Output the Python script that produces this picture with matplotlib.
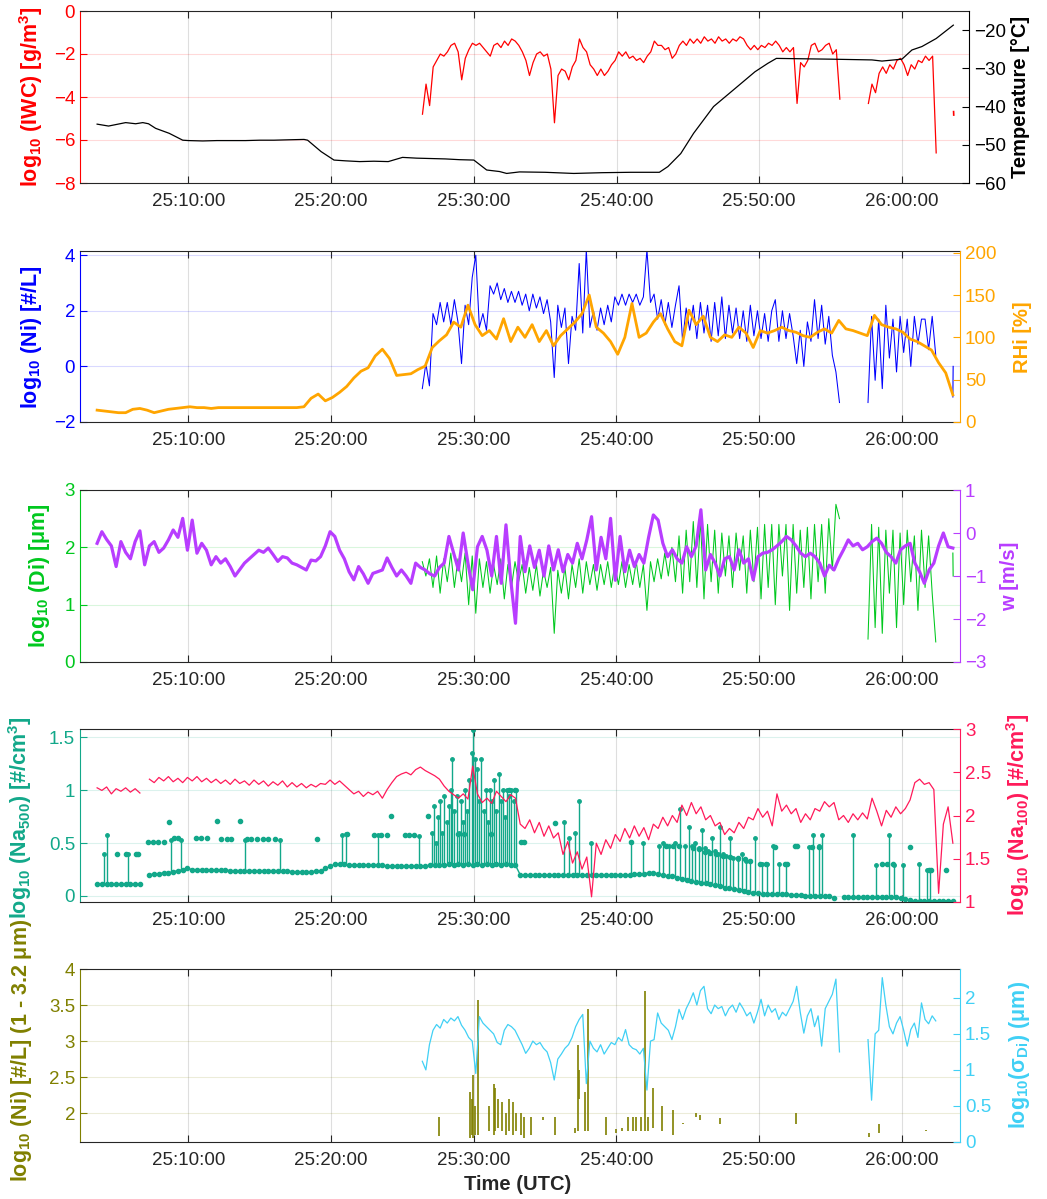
import numpy as np
import matplotlib
matplotlib.use("Agg")
import matplotlib.pyplot as plt

nan = np.nan

# ---------------- data (time in minutes after 25:00 UTC) ----------------
xtick_min = [10, 20, 30, 40, 50, 60]
xtick_labels = ['25:10:00', '25:20:00', '25:30:00', '25:40:00', '25:50:00', '26:00:00']

temp_t = [3.6, 4.4, 5.6, 6.3, 6.8, 7.2, 7.7, 8.65, 9.6, 10.0, 11.0, 12.0, 13.0, 14.0, 15.0,
          16.0, 17.0, 18.1, 18.35, 19.3, 20.2, 21.0, 22.0, 23.0, 24.0, 25.0, 26.0, 27.0, 28.0,
          29.0, 30.0, 30.9, 31.8, 32.3, 33.2, 35.0, 37.0, 39.0, 41.0, 43.0, 43.6, 44.5, 45.4,
          46.8, 48.3, 49.7, 50.6, 51.2, 53.0, 55.0, 57.9, 58.6, 60.0, 60.7, 61.4, 62.4, 63.6]
temp = [-44.6, -45.1, -44.2, -44.5, -44.2, -44.5, -45.7, -47.0, -48.8, -48.9, -49.0, -48.9,
        -48.9, -48.9, -48.8, -48.8, -48.7, -48.6, -48.8, -51.8, -54.0, -54.2, -54.4, -54.3,
        -54.4, -53.3, -53.5, -53.6, -53.7, -53.9, -54.0, -56.6, -57.0, -57.5, -57.1, -57.2,
        -57.5, -57.3, -57.2, -57.2, -55.7, -52.3, -47.0, -40.0, -35.3, -30.9, -28.7, -27.4,
        -27.5, -27.6, -27.8, -28.1, -27.6, -25.2, -24.3, -22.2, -18.7]

# in-cloud series, sampled every 0.25 min from 26.4
cloud_start, cloud_step = 26.4, 0.25
iwc = [-4.8, -3.4, -4.4, -2.6, -2.3, -2.0, -2.1, -1.9, -1.6, -1.5,
       -1.9, -3.2, -2.2, -1.8, -1.5, -1.6, -1.5, -1.7, -1.9, -2.1,
       -1.6, -1.5, -1.7, -1.4, -1.6, -1.3, -1.4, -1.6, -1.9, -2.3,
       -3.0, -2.4, -2.0, -1.9, -2.1, -2.0, -2.7, -5.2, -3.0, -2.7,
       -2.8, -3.2, -2.6, -2.3, -1.3, -1.7, -1.9, -2.5, -2.7, -3.0,
       -2.7, -3.0, -2.8, -2.5, -2.3, -1.9, -2.1, -1.9, -2.2, -2.1,
       -2.3, -2.2, -2.4, -2.1, -1.9, -1.4, -1.6, -1.6, -1.8, -1.7,
       -2.2, -2.0, -1.6, -1.4, -1.6, -1.3, -1.5, -1.3, -1.5, -1.2,
       -1.4, -1.3, -1.5, -1.2, -1.4, -1.3, -1.5, -1.3, -1.4, -1.2,
       -1.3, -1.6, -1.8, -1.6, -1.8, -1.6, -1.7, -1.5, -1.6, -1.4,
       -1.6, -1.9, -1.7, -1.9, -1.7, -4.3, -2.4, -2.6, -2.3, -1.6,
       -1.5, -1.9, -1.8, -1.6, -1.5, -2.0, -1.8, -4.1, nan, nan,
       nan, nan, nan, nan, nan, -4.3, -3.4, -3.8, -2.9, -2.6,
       -2.9, -2.5, -2.7, -2.3, -2.2, -2.5, -3.0, -2.5, -2.7, -2.3,
       -2.4, -2.1, -2.3, -2.1, -6.6, nan, nan, nan, nan, nan, nan]
iwc_tail_t = [63.62, 63.63]
iwc_tail = [-4.68, -4.84]

ni = [-0.8, 0.1, -0.7, 1.9, 1.5, 2.3, 1.6, 2.3, 1.5, 2.4,
      1.6, 0.1, 2.2, 1.5, 3.2, 4.0, 1.4, 1.9, 1.3, 2.9,
      2.6, 3.0, 2.4, 2.8, 2.3, 2.7, 2.3, 2.7, 2.2, 2.6,
      2.0, 2.6, 2.1, 2.5, 1.9, 2.4, 1.6, -0.4, 2.2, 1.4,
      2.1, 0.1, 1.8, 1.3, 3.7, 1.2, 4.2, 1.4, 2.0, 1.3,
      2.1, 1.5, 2.2, 1.6, 2.5, 2.2, 2.6, 2.2, 2.6, 2.3,
      2.6, 2.2, 2.5, 4.2, 2.3, 2.6, 1.7, 2.4, 1.5, 2.3,
      1.4, 2.2, 2.9, 0.9, 2.1, 1.3, 2.2, 1.0, 2.3, 1.2,
      2.2, 0.9, 2.3, 1.1, 2.5, 1.0, 2.2, 1.2, 2.1, 1.0,
      2.0, 0.9, 2.2, 1.1, 2.0, 1.0, 1.9, 0.9, 2.0, 2.4,
      0.9, 2.0, 1.0, 1.9, 1.1, 0.1, 1.3, 0.0, 1.6, 0.9,
      2.4, 1.0, 2.2, 0.8, 1.8, 0.4, -0.2, -1.3, nan, nan,
      nan, nan, nan, nan, nan, -1.3, 1.8, -0.5, 1.7, -0.8,
      2.2, 0.3, 1.7, -0.2, 1.8, 0.5, 1.7, 0.0, 1.8, 0.8,
      1.7, 1.7, 0.6, 1.8, 0.4, nan, nan, nan, nan, nan, nan]
ni_tail_t = [63.6, 63.62]
ni_tail = [-1.1, 0.0]

di = [1.75, 1.5, 1.8, 1.3, 1.85, 1.2, 1.8, 1.4, 1.9, 1.3,
      1.8, 1.4, 1.9, 1.0, 1.85, 0.85, 1.8, 1.3, 1.75, 1.2,
      1.7, 1.35, 1.8, 1.1, 1.7, 1.3, 1.75, 1.4, 1.7, 1.2,
      1.65, 1.25, 1.7, 1.15, 1.6, 1.3, 1.65, 0.5, 1.6, 1.2,
      1.65, 1.1, 1.7, 1.3, 1.8, 1.2, 1.75, 1.35, 1.7, 1.25,
      1.7, 1.35, 1.75, 1.3, 1.7, 1.35, 1.75, 1.3, 1.7, 1.35,
      1.75, 1.3, 1.7, 0.9, 1.75, 1.4, 1.8, 1.45, 1.9, 1.5,
      2.0, 1.4, 2.2, 1.2, 2.3, 1.4, 2.45, 1.3, 2.5, 1.1,
      2.4, 1.4, 2.3, 1.2, 2.25, 1.5, 2.2, 1.3, 2.25, 1.6,
      2.2, 1.2, 2.3, 1.4, 2.35, 1.1, 2.4, 1.3, 2.4, 1.0,
      2.4, 1.5, 2.4, 0.9, 2.4, 1.2, 2.3, 1.3, 2.35, 1.1,
      2.4, 1.4, 2.4, 1.2, 2.5, 1.6, 2.75, 2.5, nan, nan,
      nan, nan, nan, nan, nan, 0.4, 2.4, 0.6, 2.35, 0.5,
      2.3, 1.2, 2.3, 0.6, 2.25, 1.0, 2.3, 1.4, 2.2, 0.9,
      2.3, 1.3, 2.2, 1.2, 0.35, nan, nan, nan, nan, nan, nan]
di_tail_t = [63.6, 63.62]
di_tail = [1.9, 1.5]

sigma_di = [1.12, 1.0, 1.35, 1.55, 1.63, 1.58, 1.70, 1.65, 1.72, 1.68,
            1.74, 1.62, 1.55, 1.45, 1.40, 0.95, 1.74, 1.65, 1.60, 1.55,
            1.50, 1.38, 1.35, 1.55, 1.63, 1.60, 1.55, 1.45, 1.35, 1.23,
            1.30, 1.40, 1.35, 1.38, 1.30, 1.25, 1.10, 0.86, 1.15, 1.22,
            1.30, 1.35, 1.45, 1.60, 1.70, 1.77, 0.81, 1.40, 1.30, 1.25,
            1.35, 1.22, 1.30, 1.38, 1.35, 1.45, 1.40, 1.56, 1.35, 1.30,
            1.28, 1.22, 1.30, 0.72, 1.40, 1.42, 1.79, 1.65, 1.60, 1.55,
            1.42, 1.60, 1.84, 1.70, 1.85, 1.95, 2.07, 1.90, 2.10, 2.16,
            1.85, 1.78, 1.90, 1.85, 1.88, 1.75, 1.85, 1.90, 1.80, 1.93,
            1.85, 1.75, 1.80, 1.65, 1.80, 1.98, 1.75, 1.90, 1.80, 1.85,
            1.70, 1.80, 1.75, 1.85, 1.95, 2.16, 1.80, 1.51, 1.75, 1.85,
            1.60, 1.75, 1.33, 1.85, 1.95, 2.05, 2.26, 1.25, nan, nan,
            nan, nan, nan, nan, nan, 1.42, 0.58, 1.50, 1.55, 2.28,
            1.90, 1.60, 1.50, 1.65, 1.74, 1.55, 1.33, 1.56, 1.65, 1.45,
            1.93, 1.70, 1.64, 1.75, 1.68, nan, nan, nan, nan, nan, nan]

# small ice (1 - 3.2 um): short bursts (time, low, high)
nis_t = [27.56, 29.76, 29.88, 29.98, 30.1, 30.28, 31.1, 31.4, 31.5, 31.7, 32.0, 32.25, 32.5,
         32.75, 33.0, 33.3, 33.55, 34.0, 34.85, 35.7, 37.1, 37.3, 37.4, 37.8, 38.0, 39.3, 40.0,
         40.4, 40.85, 41.2, 41.4, 41.7, 42.0, 42.25, 42.55, 43.2, 44.0, 44.7, 45.6, 45.9, 47.3,
         52.6, 57.7, 58.4, 61.75]
nis_lo = [1.68, 1.65, 1.7, 1.65, 1.7, 1.7, 1.75, 1.7, 1.75, 1.8, 1.75, 1.7, 1.75,
          1.7, 1.75, 1.7, 1.65, 1.7, 1.9, 1.7, 1.72, 1.75, 2.2, 1.75, 1.75, 1.7, 1.72,
          1.75, 1.75, 1.75, 1.75, 1.75, 1.75, 1.75, 1.8, 1.75, 1.7, 1.85, 1.95, 1.9, 1.85,
          1.85, 1.67, 1.72, 1.75]
nis_hi = [1.95, 2.3, 2.2, 2.53, 2.1, 3.57, 2.1, 2.4, 2.35, 2.2, 2.15, 2.0, 2.2,
          2.15, 2.0, 2.0, 1.95, 1.95, 1.95, 1.95, 1.8, 2.95, 2.6, 2.3, 3.45, 1.95, 1.78,
          1.8, 1.95, 1.95, 1.95, 1.95, 3.7, 1.95, 2.35, 2.1, 2.05, 1.87, 2.0, 1.98, 1.93,
          2.0, 1.72, 1.85, 1.77]

# RHi, every 0.5 min from 3.6
rhi_start, rhi_step = 3.6, 0.5
rhi = [14, 13, 12, 11, 11, 15, 16, 14, 11, 13,
       15, 16, 17, 18, 17, 17, 16, 17, 17, 17,
       17, 17, 17, 17, 17, 17, 17, 17, 17, 18,
       28, 33, 25, 29, 35, 42, 52, 60, 64, 78,
       86, 75, 55, 56, 57, 62, 66, 88, 96, 103,
       118, 112, 138, 115, 102, 108, 98, 122, 95, 112,
       100, 115, 95, 108, 90, 102, 110, 118, 128, 150,
       112, 105, 95, 80, 100, 140, 100, 105, 118, 128,
       110, 95, 90, 132, 115, 125, 100, 95, 103, 100,
       112, 105, 88, 108, 105, 108, 112, 108, 106, 102,
       100, 106, 110, 105, 120, 110, 108, 105, 102, 126,
       115, 112, 110, 106, 98, 95, 90, 85, 70, 58,
       32]

# 20-s series from 3.6
fast_start, fast_step = 3.6, 1.0 / 3.0
w_vert = [-0.24, 0.03, -0.15, -0.3, -0.78, -0.2, -0.45, -0.6, -0.2, 0.05,
          -0.74, -0.3, -0.2, -0.45, -0.35, -0.16, 0.07, -0.1, 0.34, -0.4,
          0.3, -0.47, -0.24, -0.4, -0.74, -0.55, -0.7, -0.6, -0.78, -1.0,
          -0.85, -0.7, -0.6, -0.5, -0.4, -0.45, -0.35, -0.5, -0.66, -0.55,
          -0.58, -0.7, -0.74, -0.8, -0.86, -0.63, -0.65, -0.55, -0.3, 0.03,
          -0.08, -0.4, -0.6, -0.9, -1.09, -0.78, -0.95, -1.17, -0.94, -0.9,
          -0.86, -0.58, -0.8, -1.0, -0.86, -1.0, -1.17, -0.7, -0.8, -0.86,
          -0.95, -1.0, -0.8, -0.7, -0.08, -0.47, -0.86, 0.0, -0.7, -1.32,
          -0.32, -0.08, -0.4, -1.0, -0.08, -1.17, 0.19, -1.09, -2.1, -0.08,
          -0.9, -0.3, -0.8, -0.4, -1.0, -0.3, -0.86, -0.39, -0.9, -0.5,
          -0.7, -0.24, -0.6, -0.16, 0.38, -0.86, -0.1, -0.6, 0.34, -1.1,
          -0.08, -0.9, -0.4, -0.78, -0.5, -0.7, -0.1, 0.42, 0.30, -0.24,
          -0.55, -0.39, -0.6, -0.7, -0.32, -0.55, -0.3, 0.54, -0.86, -0.5,
          -0.7, -1.0, -0.6, -0.55, -0.86, -0.39, -0.7, -0.6, -1.09, -0.55,
          -0.47, -0.45, -0.39, -0.3, -0.2, -0.08, -0.16, -0.3, -0.47, -0.55,
          -0.47, -0.55, -0.7, -1.0, -0.75, -0.86, -0.6, -0.39, -0.16, -0.3,
          -0.24, -0.39, -0.32, -0.2, -0.12, -0.24, -0.45, -0.55, -0.7, -0.39,
          -0.3, -0.24, -0.7, -0.9, -1.17, -0.86, -0.7, -0.3, 0.0, -0.32,
          -0.35]

# Na500 baseline (same 20-s grid)
na500 = [0.11, 0.11, 0.11, 0.11, 0.11, 0.11, 0.11, 0.11, 0.11, 0.11,
         nan, 0.20, 0.21, 0.21, 0.22, 0.22, 0.23, 0.24, 0.25, 0.26,
         0.25, 0.25, 0.25, 0.245, 0.245, 0.245, 0.245, 0.245, 0.24, 0.24,
         0.24, 0.24, 0.24, 0.24, 0.24, 0.24, 0.24, 0.24, 0.24, 0.24,
         0.24, 0.23, 0.23, 0.23, 0.23, 0.23, 0.235, 0.24, 0.26, 0.28,
         0.30, 0.30, 0.30, 0.295, 0.295, 0.29, 0.29, 0.29, 0.29, 0.29,
         0.29, 0.285, 0.285, 0.285, 0.285, 0.285, 0.285, 0.285, 0.285, 0.285,
         0.29, 0.29, 0.29, 0.29, 0.30, 0.29, 0.30, 0.29, 0.30, 0.29,
         0.30, 0.29, 0.30, 0.29, 0.30, 0.29, 0.30, 0.29, 0.29, 0.20,
         0.20, 0.20, 0.20, 0.20, 0.20, 0.20, 0.20, 0.20, 0.20, 0.20,
         0.20, 0.20, 0.20, 0.20, 0.20, 0.20, 0.20, 0.20, 0.20, 0.20,
         0.20, 0.20, 0.20, 0.21, 0.21, 0.21, 0.22, 0.22, 0.21, 0.20,
         0.19, 0.185, 0.17, 0.16, 0.15, 0.14, 0.13, 0.125, 0.12, 0.11,
         0.10, 0.09, 0.08, 0.075, 0.07, 0.06, 0.05, 0.04, 0.03, 0.025,
         0.02, 0.02, 0.02, 0.02, 0.02, 0.02, 0.01, 0.01, 0.01, 0.00,
         0.00, 0.00, 0.00, 0.00, 0.00, -0.02, nan, -0.01, -0.01, -0.01,
         -0.01, -0.01, -0.01, -0.01, -0.01, -0.01, -0.01, -0.01, -0.01, -0.02,
         -0.03, -0.04, -0.05, -0.05, -0.05, -0.05, -0.05, -0.05, -0.05, -0.05,
         -0.05]

na500_dot_t = [5.0, 5.6, 6.3, 6.5, 7.2, 7.5, 7.9, 8.3, 8.65, 9.0, 9.3, 10.5, 10.9, 11.3, 12.0,
               12.3, 12.7, 13.0, 13.6, 14.1, 14.4, 14.8, 15.2, 15.6, 16.1, 19.0, 21.1, 23.0,
               23.5, 23.9, 24.2, 25.2, 25.5, 25.8, 26.8, 28.9, 29.3, 31.2, 32.5, 32.9, 33.3,
               33.5, 35.7, 41.0, 43.5, 44.0, 44.4, 45.4, 45.8, 46.2, 46.6, 47.0, 47.5, 48.0,
               48.5, 49.0, 49.4, 50.1, 50.5, 51.1, 51.8, 52.0, 52.5, 52.7, 53.7, 54.2, 58.6,
               59.0, 59.4, 60.6, 61.9, 62.1, 63.1]
na500_dot = [0.4, 0.4, 0.4, 0.4, 0.51, 0.51, 0.51, 0.51, 0.70, 0.545, 0.545, 0.55, 0.55, 0.55,
             0.71, 0.54, 0.54, 0.54, 0.71, 0.535, 0.535, 0.535, 0.535, 0.535, 0.535, 0.54,
             0.59, 0.58, 0.575, 0.575, 0.76, 0.58, 0.575, 0.575, 0.76, 0.59, 0.59, 0.59, 1.0,
             1.0, 0.51, 0.51, 0.69, 0.51, 0.47, 0.47, 0.47, 0.45, 0.44, 0.42, 0.41, 0.40, 0.38,
             0.37, 0.36, 0.35, 0.33, 0.3, 0.3, 0.46, 0.3, 0.3, 0.47, 0.47, 0.46, 0.46, 0.3,
             0.3, 0.3, 0.46, 0.25, 0.25, 0.25]

na500_spk_t = [4.05, 4.3, 5.8, 8.8, 9.5, 14.0, 16.45, 20.8, 21.05, 23.3, 26.15,
               27.1, 27.2, 27.35, 27.5, 27.65, 27.8, 27.95, 28.1, 28.25, 28.4, 28.5, 28.65,
               28.8, 28.95, 29.1, 29.25, 29.4, 29.55, 29.7, 29.85, 29.95, 30.1, 30.25, 30.4,
               30.55, 30.7, 30.85, 31.0, 31.15, 31.3, 31.45, 31.6, 31.75, 31.9, 32.05, 32.2,
               32.35, 32.5, 32.65, 32.8, 32.95, 36.3, 36.7, 37.1, 37.4, 38.2, 41.0, 41.9,
               43.0, 43.3, 43.7, 44.1, 44.5, 44.8, 45.1, 45.3, 45.5, 45.8, 46.0, 46.2, 46.4,
               46.7, 46.9, 47.1, 47.3, 47.5, 47.7, 48.0, 48.2, 48.5, 48.8, 49.1, 49.4, 49.7,
               50.2, 50.6, 51.0, 51.4, 51.9, 53.5, 53.8, 54.2, 54.4, 56.6, 58.2, 59.1, 59.5,
               60.1, 61.2, 61.8, 62.0]
na500_spk_lo = [0.11, 0.11, 0.11, 0.23, 0.25, 0.24, 0.24, 0.30, 0.30, 0.29, 0.285,
                0.29, 0.29, 0.29, 0.29, 0.29, 0.29, 0.29, 0.29, 0.29, 0.29, 0.29, 0.29,
                0.29, 0.29, 0.29, 0.29, 0.29, 0.29, 0.29, 0.29, 0.29, 0.29, 0.29, 0.29,
                0.29, 0.29, 0.29, 0.29, 0.29, 0.29, 0.29, 0.29, 0.29, 0.29, 0.29, 0.29,
                0.29, 0.29, 0.29, 0.29, 0.29, 0.2, 0.2, 0.2, 0.2, 0.2, 0.2, 0.21,
                0.2, 0.2, 0.19, 0.18, 0.17, 0.16, 0.15, 0.14, 0.13, 0.13, 0.12, 0.12, 0.11,
                0.10, 0.10, 0.09, 0.08, 0.08, 0.07, 0.07, 0.06, 0.05, 0.05, 0.04, 0.03, 0.03,
                0.02, 0.02, 0.02, 0.02, 0.02, 0.0, 0.0, 0.0, 0.0, -0.01, -0.01, -0.01, -0.02,
                -0.03, -0.05, -0.05, -0.05]
na500_spk_hi = [0.40, 0.58, 0.40, 0.53, 0.53, 0.53, 0.53, 0.58, 0.59, 0.58, 0.57,
                0.6, 0.85, 0.5, 0.75, 0.9, 0.6, 0.95, 0.7, 0.85, 1.0, 1.3, 0.8,
                0.95, 0.6, 0.9, 0.7, 1.0, 0.8, 1.1, 1.35, 1.57, 1.3, 1.2, 0.9,
                1.3, 0.8, 1.0, 0.7, 1.0, 0.9, 1.1, 0.8, 1.15, 0.9, 1.0, 0.75,
                1.0, 0.95, 1.0, 0.9, 1.0, 0.7, 0.55, 0.6, 0.9, 0.5, 0.51, 0.5,
                0.47, 0.5, 0.47, 0.5, 0.82, 0.47, 0.65, 0.47, 0.5, 0.45, 0.62, 0.45, 0.43,
                0.55, 0.43, 0.40, 0.65, 0.40, 0.38, 0.55, 0.36, 0.35, 0.40, 0.33, 0.33, 0.55,
                0.30, 0.30, 0.47, 0.3, 0.3, 0.46, 0.58, 0.47, 0.58, 0.58, 0.29, 0.58, 0.29,
                0.29, 0.30, 0.25, 0.25]

na100 = [2.32, 2.29, 2.33, 2.25, 2.31, 2.28, 2.32, 2.27, 2.31, 2.26,
         nan, 2.42, 2.38, 2.44, 2.40, 2.45, 2.39, 2.43, 2.38, 2.44,
         2.40, 2.45, 2.39, 2.43, 2.38, 2.42, 2.37, 2.41, 2.36, 2.42,
         2.37, 2.40, 2.35, 2.41, 2.36, 2.40, 2.34, 2.39, 2.35, 2.40,
         2.33, 2.38, 2.33, 2.37, 2.32, 2.36, 2.33, 2.37, 2.36, 2.41,
         2.36, 2.40, 2.35, 2.30, 2.25, 2.28, 2.22, 2.27, 2.24, 2.28,
         2.20, 2.30, 2.38, 2.45, 2.48, 2.50, 2.47, 2.53, 2.56, 2.52,
         2.49, 2.46, 2.42, 2.34, 2.28, 2.24, 2.20, 2.25, 2.19, 2.57,
         2.25, 2.15, 2.20, 2.14, 2.28, 2.22, 2.16, 2.24, 2.20, 1.90,
         1.85, 1.95, 1.80, 1.92, 1.76, 1.88, 1.74, 1.80, 1.55, 1.70,
         1.45, 1.58, 1.38, 1.52, 1.06, 1.68, 1.55, 1.72, 1.62, 1.78,
         1.70, 1.85, 1.74, 1.88, 1.76, 1.86, 1.72, 1.90, 1.85, 1.98,
         1.88, 2.00, 1.92, 2.12, 2.00, 2.15, 2.02, 2.10, 1.95, 2.00,
         1.88, 1.92, 1.78, 1.85, 1.80, 1.92, 1.85, 1.98, 1.95, 2.08,
         1.98, 2.05, 1.88, 2.25, 2.05, 2.12, 2.02, 2.08, 1.92, 2.02,
         1.95, 2.08, 2.05, 2.16, 2.10, 2.15, 1.95, 2.00, 1.92, 2.02,
         1.95, 2.03, 1.96, 2.20, 2.05, 1.88, 2.06, 1.98, 2.10, 2.02,
         2.08, 2.18, 2.38, 2.42, 2.36, 2.38, 2.30, 1.10, 1.90, 2.10,
         1.68]

# ---------------- styling ----------------
plt.rcParams['font.family'] = ['Liberation Sans', 'DejaVu Sans']
plt.rcParams['mathtext.fontset'] = 'custom'
plt.rcParams['mathtext.rm'] = 'Liberation Sans:bold'
plt.rcParams['mathtext.it'] = 'Liberation Sans:italic:bold'
plt.rcParams['mathtext.bf'] = 'Liberation Sans:bold'
plt.rcParams['mathtext.sf'] = 'Liberation Sans:bold'
plt.rcParams['mathtext.default'] = 'bf'

DARK = '#262626'
C_IWC, C_T = '#ff0000', '#000000'
C_NI, C_RHI = '#0000ff', '#ffa500'
C_DI, C_W = '#00c81e', '#b83dff'
C_NA5, C_NA1 = '#12a88a', '#ff1a5a'
C_NIS, C_SIG = '#808000', '#40d0f5'

W, H = 1047, 1199
fig = plt.figure(figsize=(W / 100, H / 100), dpi=100)


def make_axes(top, bottom, right, left=80):
    ax = fig.add_axes([left / W, 1 - bottom / H, (right - left) / W, (bottom - top) / H])
    axr = ax.twinx()
    return ax, axr


def style(ax, axr, lcol, rcol, xmax):
    ax.set_xlim(2.4, xmax)
    ax.set_xticks(xtick_min)
    ax.set_xticklabels(xtick_labels)
    ax.tick_params(axis='x', direction='in', top=True, bottom=True, length=5, width=0.8,
                   colors=DARK, labelsize=13.5, pad=7)
    ax.tick_params(axis='y', direction='in', left=True, right=False, length=5, width=0.8,
                   colors=lcol, labelsize=13.5)
    axr.tick_params(axis='y', direction='in', right=True, left=False, length=5, width=0.8,
                    colors=rcol, labelsize=13.5)
    ax.grid(axis='x', color=DARK, alpha=0.15, lw=0.8)
    ax.grid(axis='y', color=lcol, alpha=0.15, lw=0.8)
    ax.set_axisbelow(True)
    for s in ('top', 'bottom'):
        ax.spines[s].set_color(DARK)
        ax.spines[s].set_linewidth(0.8)
        axr.spines[s].set_visible(False)
    ax.spines['left'].set_color(lcol)
    ax.spines['left'].set_linewidth(0.8)
    ax.spines['right'].set_visible(False)
    axr.spines['left'].set_visible(False)
    axr.spines['right'].set_color(rcol)
    axr.spines['right'].set_linewidth(0.8)


def ylab(xpx, ycen, text, color, size=15.5):
    fig.text(xpx / W, 1 - ycen / H, text, rotation=90, ha='center', va='center',
             color=color, fontsize=size, fontweight='bold')


t_cloud = cloud_start + cloud_step * np.arange(len(iwc))
t_rhi = rhi_start + rhi_step * np.arange(len(rhi))
t_fast = fast_start + fast_step * np.arange(len(na100))

# ---- panel 1 ----
ax1, ax1r = make_axes(11, 183, 969)
ax1.plot(t_cloud, iwc, color=C_IWC, lw=0.9)
ax1.plot(iwc_tail_t, iwc_tail, color=C_IWC, lw=1.2)
ax1r.plot(temp_t, temp, color=C_T, lw=0.9)
ax1.set_ylim(-8, 0)
ax1.set_yticks([-8, -6, -4, -2, 0])
ax1r.set_ylim(-60, -15)
ax1r.set_yticks([-60, -50, -40, -30, -20])
style(ax1, ax1r, C_IWC, C_T, 64.7)
ylab(31, 97, r'log$_{10}$ (IWC) [g/m$^3$]', C_IWC)
ylab(1020, 97, 'Temperature [°C]', C_T, 14.5)

# ---- panel 2 ----
ax2, ax2r = make_axes(251, 422, 960)
ax2.plot(t_cloud, ni, color=C_NI, lw=0.75)
ax2.plot(ni_tail_t, ni_tail, color=C_NI, lw=0.8)
ax2r.plot(t_rhi, rhi, color=C_RHI, lw=2.0)
ax2.set_ylim(-2, 4.15)
ax2.set_yticks([-2, 0, 2, 4])
ax2r.set_ylim(0, 202)
ax2r.set_yticks([0, 50, 100, 150, 200])
style(ax2, ax2r, C_NI, C_RHI, 64.1)
ylab(32, 337, r'log$_{10}$ (Ni) [#/L]', C_NI)
ylab(1022, 337, 'RHi [%]', C_RHI, 14.5)

# ---- panel 3 ----
ax3, ax3r = make_axes(490, 662, 960)
ax3.plot(t_cloud, di, color=C_DI, lw=0.75)
ax3.plot(di_tail_t, di_tail, color=C_DI, lw=0.8)
ax3r.plot(t_fast, w_vert, color=C_W, lw=2.3)
ax3.set_ylim(0, 3)
ax3.set_yticks([0, 1, 2, 3])
ax3r.set_ylim(-3, 1)
ax3r.set_yticks([-3, -2, -1, 0, 1])
style(ax3, ax3r, C_DI, C_W, 64.1)
ylab(39, 576, r'log$_{10}$ (Di) [$\mu$m]', C_DI)
ylab(1010, 576, 'w [m/s]', C_W, 14.5)

# ---- panel 4 ----
ax4, ax4r = make_axes(729, 902, 960)
ax4.vlines(na500_spk_t, na500_spk_lo, na500_spk_hi, color=C_NA5, lw=1.0)
ax4.plot(na500_spk_t, na500_spk_hi, ls='none', color=C_NA5, marker='.', ms=5)
ax4.plot(t_fast, na500, color=C_NA5, lw=1.0, marker='.', ms=6)
ax4.plot(na500_dot_t, na500_dot, ls='none', color=C_NA5, marker='.', ms=6)
ax4r.plot(t_fast, na100, color=C_NA1, lw=0.9)
ax4.set_ylim(-0.057, 1.58)
ax4.set_yticks([0, 0.5, 1, 1.5])
ax4.set_yticklabels(['0', '0.5', '1', '1.5'])
ax4r.set_ylim(1, 3)
ax4r.set_yticks([1, 1.5, 2, 2.5, 3])
ax4r.set_yticklabels(['1', '1.5', '2', '2.5', '3'])
style(ax4, ax4r, C_NA5, C_NA1, 64.1)
ylab(20, 818, r'log$_{10}$ (Na$_{500}$) [#/cm$^3$]', C_NA5)
ylab(1018, 815, r'log$_{10}$ (Na$_{100}$) [#/cm$^3$]', C_NA1)

# ---- panel 5 ----
ax5, ax5r = make_axes(969, 1142, 960)
ax5.vlines(nis_t, nis_lo, nis_hi, color=C_NIS, lw=1.2)
ax5r.plot(t_cloud, sigma_di, color=C_SIG, lw=0.9)
ax5.set_ylim(1.6, 4)
ax5.set_yticks([2, 2.5, 3, 3.5, 4])
ax5.set_yticklabels(['2', '2.5', '3', '3.5', '4'])
ax5r.set_ylim(0, 2.4)
ax5r.set_yticks([0, 0.5, 1, 1.5, 2])
ax5r.set_yticklabels(['0', '0.5', '1', '1.5', '2'])
style(ax5, ax5r, C_NIS, C_SIG, 64.1)
ylab(22, 1050, r'log$_{10}$ (Ni) [#/L] (1 - 3.2 $\mu$m)', C_NIS)
ylab(1020, 1055, r'log$_{10}$($\sigma_{\rm Di}$) ($\mu$m)', C_SIG)
fig.text(518 / W, 1 - 1185 / H, 'Time (UTC)', ha='center', va='center',
         fontsize=14.5, fontweight='bold', color=DARK)

fig.savefig('out.png', dpi=100)
